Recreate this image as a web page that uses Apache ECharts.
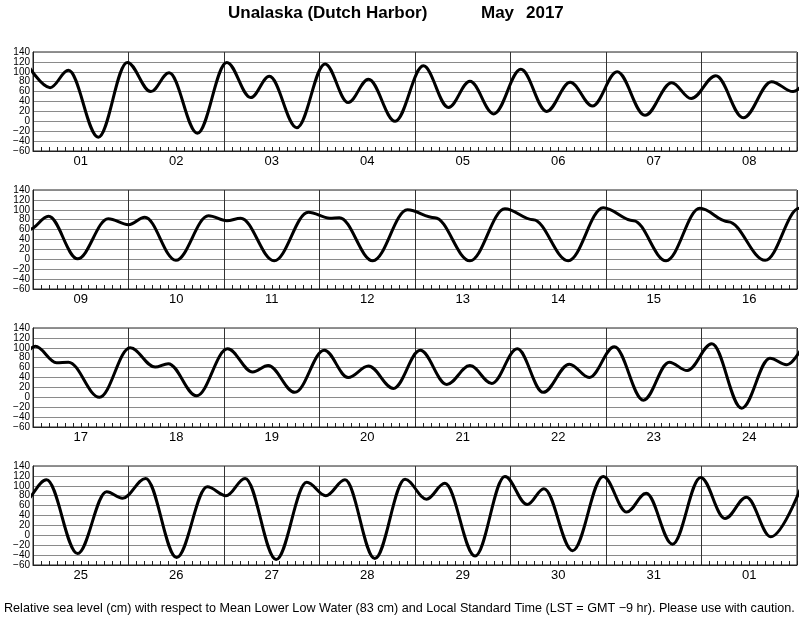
<!DOCTYPE html>
<html>
<head>
<meta charset="utf-8">
<script src="https://cdn.jsdelivr.net/npm/echarts/dist/echarts.min.js"></script>
<style>
html,body{margin:0;padding:0;background:#fff;}
#chart{width:800px;height:618px;}
</style>
</head>
<body>
<div id="chart"></div>
<script>
// Hours since 1 May 2017 00:00 LST of each high / low (and shoulder) water
const extremeHours = [
  -1.5, 4.3, 8.9, 16.4, 23.7, 29.6, 34.2, 41.3, 48.7, 54.7, 59.4, 66.3, 73.4, 79.2, 84.3, 91.0,
  98.1, 104.4, 109.8, 115.8, 122.6, 129.1, 135.0, 140.6, 146.8, 153.8, 160.5, 165.4, 171.6, 178.5, 185.6, 191.0,
  195.9, 203.2, 210.9, 216.0, 220.1, 227.9, 236.1, 240.7, 244.2, 252.6, 261.2, 266.6, 269.0, 277.4,
  286.1, 293.0, 301.8, 310.6, 317.7, 326.5, 335.3, 342.9, 351.1, 359.6, 366.7, 376.0,
  384.6, 389.9, 392.9, 400.7, 408.4, 414.7, 418.0, 425.1, 432.9, 439.2, 443.1, 449.8, 457.2, 463.2, 468.3, 474.6,
  481.3, 488.0, 493.8, 499.3, 505.7, 512.2, 518.8, 523.8, 530.1, 537.4, 543.9, 548.4, 554.6, 562.1, 569.2, 573.4,
  579.4, 587.2, 594.5, 598.5, 604.3, 612.1, 619.8, 624.5, 629.3, 637.1, 644.8, 649.6, 654.4, 661.9,
  669.5, 674.9, 679.5, 687.1, 694.6, 700.2, 704.4, 711.6, 719.3, 725.2, 730.1, 736.7, 743.8, 749.9, 755.3, 761.4, 770.0
];
// Sea level (cm) at those times
const extremeLevels = [
  116, 68, 103, -32, 119, 60, 98, -24, 119, 48, 91, -13, 116, 38, 85, 0,
  112, 28, 81, 15, 105, 20, 79, 31, 100, 12, 78, 46, 92, 7, 80, 60,
  87, 1, 82, 70, 85, -2, 88, 78, 83, -3, 95, 83, 84, -3,
  100, 84, -3, 102, 80, -3, 104, 78, -3, 103, 76, -2,
  103, 70, 71, 0, 100, 61, 68, 3, 98, 51, 64, 10, 95, 40, 63, 18,
  95, 26, 64, 28, 98, 10, 67, 40, 102, -6, 71, 54, 108, -22, 79, 66,
  112, -37, 88, 75, 115, -45, 98, 80, 115, -49, 107, 80, 112, -47,
  113, 73, 105, -42, 119, 62, 94, -31, 119, 47, 85, -18, 117, 34, 77, -3, 117
];
// Day labels for each of the four panels
const panelDays = [
  ['01','02','03','04','05','06','07','08'],
  ['09','10','11','12','13','14','15','16'],
  ['17','18','19','20','21','22','23','24'],
  ['25','26','27','28','29','30','31','01']
];
const titleText = 'Unalaska (Dutch Harbor)';
const monthText = 'May';
const yearText = '2017';
const footerText = 'Relative sea level (cm) with respect to Mean Lower Low Water (83 cm) and Local Standard Time (LST = GMT \u22129 hr). Please use with caution.';

const FONT = '"Liberation Sans", Arial, Helvetica, sans-serif';
const chart = echarts.init(document.getElementById('chart'), null, {renderer: 'canvas'});

const grids = [], xAxes = [], yAxes = [], series = [];
const panelTops = [52, 190, 328, 466];
panelDays.forEach((days, i) => {
  const start = i * 192, end = start + 192;
  grids.push({left: 33, right: 3, top: panelTops[i], height: 99, show: true,
    borderColor: '#222', borderWidth: 1});
  // value axis (hours) – carries day boundary lines and 2-hour minor ticks
  xAxes.push({
    type: 'value', gridIndex: i, min: start, max: end, interval: 24, position: 'bottom',
    axisLine: {show: true, onZero: false, lineStyle: {color: '#222', width: 1}},
    axisTick: {show: true, inside: true, length: 4, lineStyle: {color: '#222', width: 1}},
    minorTick: {show: true, splitNumber: 12, length: 4, lineStyle: {color: '#222', width: 1}},
    axisLabel: {show: true, formatter: () => ''},
    splitLine: {show: true, lineStyle: {color: '#333', width: 1}},
    minorSplitLine: {show: false}
  });
  // category axis for day labels
  xAxes.push({
    type: 'category', gridIndex: i, data: days, position: 'bottom', boundaryGap: true,
    axisLine: {show: false, onZero: false}, axisTick: {show: false}, splitLine: {show: false},
    axisLabel: {interval: 0, fontSize: 13, color: '#000', fontFamily: FONT, margin: 4}
  });
  yAxes.push({
    type: 'value', gridIndex: i, min: -60, max: 140, interval: 20,
    axisLine: {show: true, lineStyle: {color: '#222', width: 1}},
    axisTick: {show: false},
    axisLabel: {fontSize: 10, color: '#000', fontFamily: FONT, margin: 3,
      showMinLabel: true, showMaxLabel: true,
      formatter: v => String(v).replace('-', '\u2212')},
    splitLine: {show: true, lineStyle: {color: '#8a8a8a', width: 1}}
  });
  const data = [];
  for (let k = 0; k < extremeHours.length; k++) {
    if (extremeHours[k] >= start - 30 && extremeHours[k] <= end + 30) data.push([extremeHours[k], extremeLevels[k]]);
  }
  series.push({
    type: 'line', xAxisIndex: i * 2, yAxisIndex: i, data: data,
    smooth: 0.36, smoothMonotone: 'x', showSymbol: false, symbol: 'none',
    clip: true, silent: true, animation: false,
    lineStyle: {color: '#000', width: 3}
  });
});

chart.setOption({
  animation: false,
  backgroundColor: '#fff',
  grid: grids, xAxis: xAxes, yAxis: yAxes, series: series,
  graphic: [
    {type: 'text', left: 228, top: 5, style: {text: titleText, font: 'bold 17px ' + FONT, fill: '#000'}},
    {type: 'text', left: 481, top: 5, style: {text: monthText, font: 'bold 17px ' + FONT, fill: '#000'}},
    {type: 'text', left: 526, top: 5, style: {text: yearText, font: 'bold 17px ' + FONT, fill: '#000'}},
    {type: 'text', left: 4, top: 602, style: {text: footerText, font: '12.6px ' + FONT, fill: '#000'}}
  ]
});
</script>
</body>
</html>
